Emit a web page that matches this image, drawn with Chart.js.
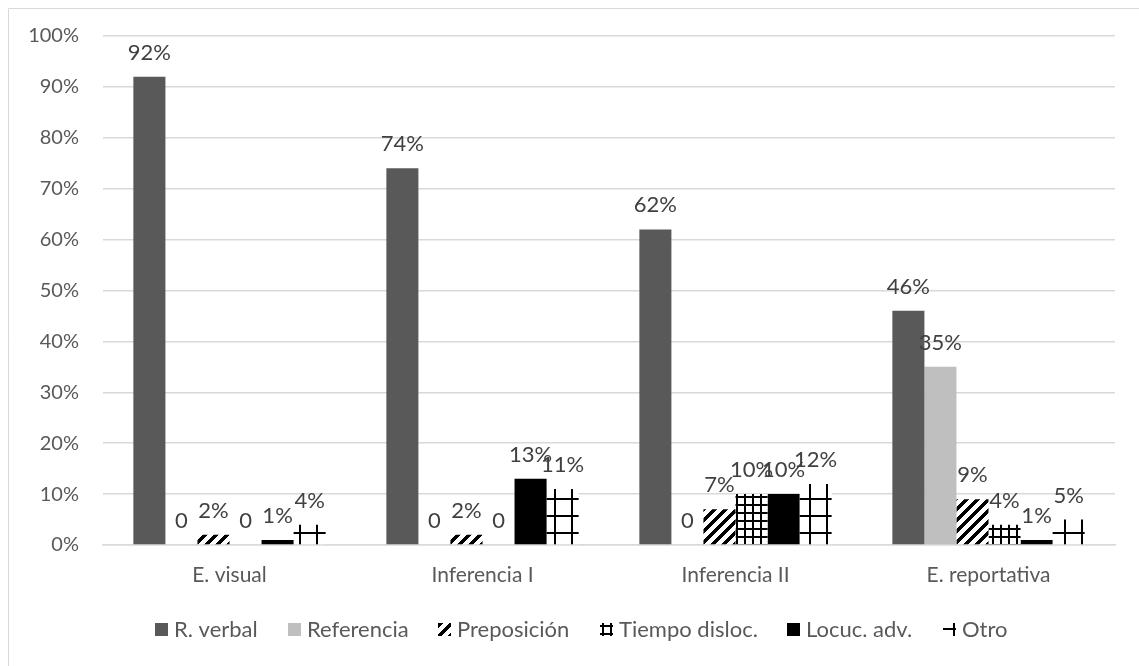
<!DOCTYPE html>
<html>
<head>
<meta charset="utf-8">
<script src="https://cdn.jsdelivr.net/npm/chart.js@4.4.1/dist/chart.umd.min.js"></script>
<style>
  html, body { margin: 0; padding: 0; background: #ffffff; }
  #wrap { width: 1139px; height: 666px; position: relative; }
</style>
</head>
<body>
<div id="wrap"><canvas id="chart" width="1139" height="666"></canvas></div>
<script>
// Categories and series (percent values)
const categories = ['E. visual', 'Inferencia I', 'Inferencia II', 'E. reportativa'];
const seriesNames = ['R. verbal', 'Referencia', 'Preposición', 'Tiempo disloc.', 'Locuc. adv.', 'Otro'];
const rVerbal      = [92, 74, 62, 46];
const referencia   = [0, 0, 0, 35];
const preposicion  = [2, 2, 7, 9];
const tiempoDisloc = [0, 0, 10, 4];
const locucAdv     = [1, 13, 10, 1];
const otro         = [4, 11, 12, 5];
const yTickValues  = [0, 10, 20, 30, 40, 50, 60, 70, 80, 90, 100];

const FONT = 'Lato';
const canvas = document.getElementById('chart');
const ctx = canvas.getContext('2d');

// Black-on-white fill patterns built on small tiles
function makePattern(size, draw) {
  const c = document.createElement('canvas');
  c.width = size; c.height = size;
  const g = c.getContext('2d');
  g.fillStyle = '#ffffff';
  g.fillRect(0, 0, size, size);
  g.fillStyle = '#000000';
  draw(g, size);
  return ctx.createPattern(c, 'repeat');
}
// wide upward diagonal stripes
const diagPattern = makePattern(11, (g, n) => {
  for (let y = 0; y < n; y++) {
    for (let x = 0; x < n; x++) {
      if ((x + y) % n < 4.5) g.fillRect(x, y, 1, 1);
    }
  }
});
// small grid
const smallGrid = makePattern(8, (g, n) => {
  g.fillRect(0, 0, n, 2);
  g.fillRect(0, 0, 2, n);
});
// large grid
const largeGrid = makePattern(17, (g, n) => {
  g.fillRect(0, 5, n, 2);
  g.fillRect(10, 0, 2, n);
});

const seriesValues = [rVerbal, referencia, preposicion, tiempoDisloc, locucAdv, otro];
const seriesFills = ['#595959', '#bfbfbf', diagPattern, smallGrid, '#000000', largeGrid];
// where each legend swatch samples its fill from
const swatchOffsets = [[0, 0], [0, 0], [0, 0], [2, 2], [0, 0], [0, 0]];

const datasets = seriesNames.map((name, i) => ({
  label: name,
  data: seriesValues[i],
  backgroundColor: seriesFills[i],
  borderWidth: 0,
  categoryPercentage: 0.76,
  barPercentage: 1.0
}));

// Value labels above each bar
const valueLabels = {
  id: 'valueLabels',
  afterDatasetsDraw(chart) {
    const c = chart.ctx;
    c.save();
    c.font = '22px ' + FONT;
    c.fillStyle = '#404040';
    c.textAlign = 'center';
    c.textBaseline = 'alphabetic';
    chart.data.datasets.forEach((ds, di) => {
      const meta = chart.getDatasetMeta(di);
      meta.data.forEach((bar, i) => {
        const v = ds.data[i];
        const txt = v === 0 ? '0' : v + '%';
        c.fillText(txt, bar.x, bar.y - 17);
      });
    });
    c.restore();
  }
};

// Legend row under the axis
const legendRow = {
  id: 'legendRow',
  afterDraw(chart) {
    const c = chart.ctx;
    const box = 13, gapText = 6, gapItem = 30, cx = 581, cy = 630;
    c.save();
    c.font = '22px ' + FONT;
    const widths = chart.data.datasets.map(ds => c.measureText(ds.label).width);
    const total = widths.reduce((a, w) => a + box + gapText + w, 0) + gapItem * (widths.length - 1);
    let x = cx - total / 2;
    chart.data.datasets.forEach((ds, i) => {
      const bx = Math.round(x), by = Math.round(cy - 7);
      const [ox, oy] = swatchOffsets[i];
      c.save();
      c.translate(bx + ox, by + oy);
      c.fillStyle = ds.backgroundColor;
      c.fillRect(-ox, -oy, box, box);
      c.restore();
      c.fillStyle = '#595959';
      c.textAlign = 'left';
      c.textBaseline = 'middle';
      c.fillText(ds.label, bx + box + gapText, cy);
      x += box + gapText + widths[i] + gapItem;
    });
    c.restore();
  }
};

// Light frame around the chart
const frame = {
  id: 'frame',
  beforeDraw(chart) {
    const c = chart.ctx;
    c.save();
    c.fillStyle = '#ffffff';
    c.fillRect(0, 0, chart.width, chart.height);
    c.strokeStyle = '#d9d9d9';
    c.lineWidth = 1;
    c.beginPath();
    c.moveTo(8.5, chart.height);
    c.lineTo(8.5, 8.5);
    c.lineTo(chart.width, 8.5);
    c.stroke();
    c.restore();
  }
};

new Chart(ctx, {
  type: 'bar',
  data: { labels: categories, datasets },
  plugins: [frame, valueLabels, legendRow],
  options: {
    responsive: false,
    animation: false,
    devicePixelRatio: 1,
    layout: { padding: { left: 20, right: 24, top: 23, bottom: 78 } },
    scales: {
      x: {
        afterFit(scale) { scale.height = 43; },
        grid: { display: false, drawTicks: false },
        border: { display: true, color: '#d9d9d9', width: 1.5 },
        ticks: { color: '#595959', font: { family: FONT, size: 21 }, padding: 18 }
      },
      y: {
        min: 0, max: 100,
        afterBuildTicks(scale) { scale.ticks = yTickValues.map(v => ({ value: v })); },
        afterFit(scale) { scale.width = 83; },
        grid: { color: '#d9d9d9', lineWidth: 1.5, drawTicks: false },
        border: { display: false },
        ticks: {
          color: '#595959', font: { family: FONT, size: 20 }, padding: 24,
          callback: v => v + '%'
        }
      }
    },
    plugins: {
      legend: { display: false },
      tooltip: { enabled: false }
    }
  }
});
</script>
</body>
</html>
